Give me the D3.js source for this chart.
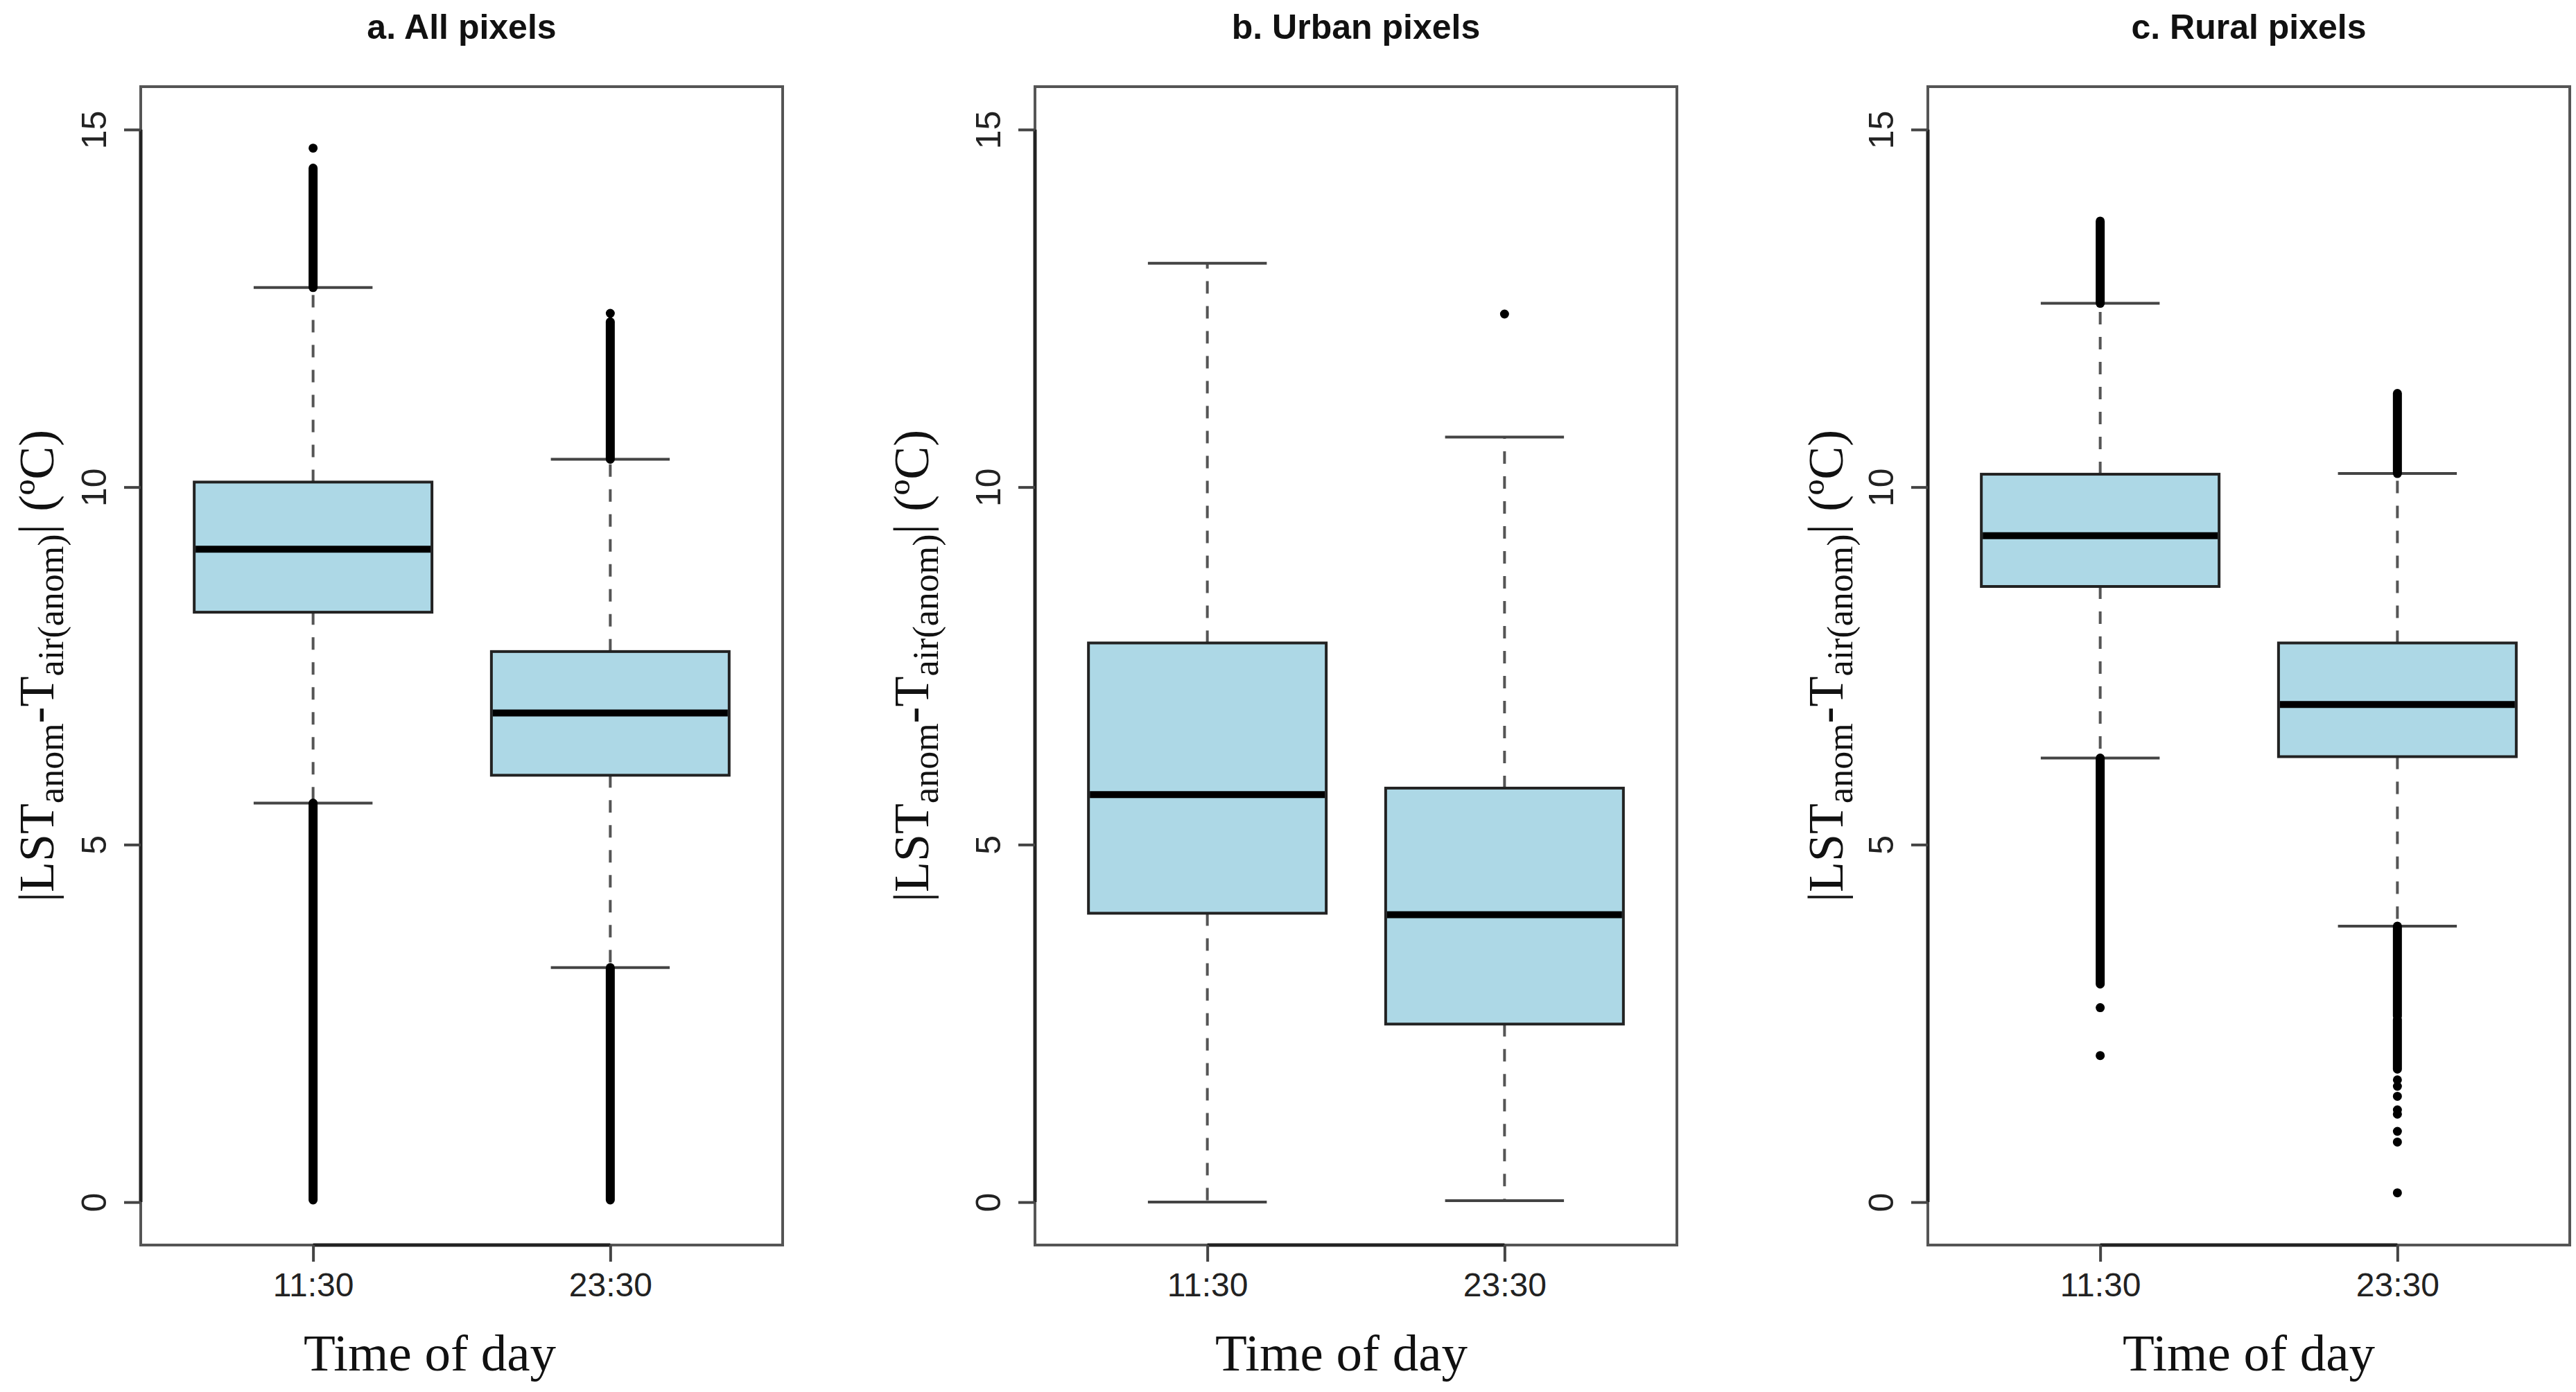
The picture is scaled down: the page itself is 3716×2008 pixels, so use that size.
<!DOCTYPE html>
<html>
<head>
<meta charset="utf-8">
<script src="https://cdn.jsdelivr.net/npm/d3@7"></script>
<style>
  body { margin: 0; background: #fff; }
</style>
</head>
<body>
<div id="chart"></div>
<script>
// ---- data (one entry per panel, then per time of day) ----
var categories = ['11:30', '23:30'];
var panelTitles = ['a. All pixels', 'b. Urban pixels', 'c. Rural pixels'];
var yTicks = [0, 5, 10, 15];

var lowerWhisker = [[5.58, 3.28], [0.00, 0.02], [6.21, 3.86]];
var q1           = [[8.25, 5.97], [4.04, 2.49], [8.61, 6.23]];
var medians      = [[9.13, 6.84], [5.70, 4.02], [9.32, 6.96]];
var q3           = [[10.07, 7.70], [7.82, 5.79], [10.18, 7.82]];
var upperWhisker = [[12.79, 10.39], [13.13, 10.70], [12.57, 10.19]];

// outliers so dense that they merge into a solid strip: [from, to]
var outlierRuns = [
  [[[12.79, 14.46], [0.03, 5.58]], [[10.39, 12.31], [0.03, 3.28]]],
  [[], []],
  [[[12.57, 13.72], [3.05, 6.21]], [[10.19, 11.31], [2.60, 3.86], [1.86, 2.55]]]
];
// separate outlying points
var outlierPoints = [
  [[14.74], [12.43]],
  [[], [12.42]],
  [[2.72, 2.05], [1.71, 1.62, 1.48, 1.29, 1.23, 0.99, 0.84, 0.13]]
];

// ---- layout ----
var W = 3716, H = 2008;
var panelLeft = [203, 1493, 2781];
var panelW = 926, plotTop = 125, plotBottom = 1796;
var yLabelX = [53, 1315, 2634];
var xLabelX = [620, 1935, 3244];

var svg = d3.select('#chart').append('svg')
    .attr('width', W)
    .attr('height', H)
    .style('font-family', '"Liberation Sans", Arial, sans-serif');

// R pads the y range by 4% on either side of c(0, 15)
var y = d3.scaleLinear().domain([-0.6, 15.6]).range([plotBottom, plotTop]);

panelTitles.forEach(function (title, p) {
    var left = panelLeft[p];
    var x = d3.scalePoint().domain(categories).range([left, left + panelW]).padding(0.58);
    var step = x.step();
    var boxW = step * 0.8, capW = step * 0.4;
    var g = svg.append('g').attr('class', 'panel');

    // frame
    g.append('rect')
        .attr('x', left).attr('y', plotTop)
        .attr('width', panelW).attr('height', plotBottom - plotTop)
        .attr('fill', 'none').attr('stroke', '#555').attr('stroke-width', 4);

    // y axis
    var yAxis = d3.axisLeft(y).tickValues(yTicks).tickSize(24).tickPadding(0).tickFormat(d3.format('d'));
    var ya = g.append('g').attr('transform', 'translate(' + left + ',0)').call(yAxis);
    ya.select('.domain').attr('d', 'M0,' + y(0) + 'V' + y(15)).attr('stroke', '#222').attr('stroke-width', 5);
    ya.selectAll('.tick line').attr('stroke', '#444').attr('stroke-width', 4);
    ya.selectAll('.tick text')
        .attr('x', null).attr('dy', null)
        .attr('transform', 'translate(-50,0) rotate(-90)')
        .attr('text-anchor', 'middle')
        .attr('font-size', 50)
        .attr('fill', '#222');

    // x axis
    var xAxis = d3.axisBottom(x).tickSize(24).tickPadding(16);
    var xa = g.append('g').attr('transform', 'translate(0,' + plotBottom + ')').call(xAxis);
    xa.select('.domain').attr('d', 'M' + x(categories[0]) + ',0H' + x(categories[1])).attr('stroke', '#222').attr('stroke-width', 5);
    xa.selectAll('.tick line').attr('stroke', '#444').attr('stroke-width', 4);
    xa.selectAll('.tick text').attr('font-size', 48).attr('fill', '#222').attr('dy', '0.71em');

    var boxes = categories.map(function (c, i) {
        return {
            cat: c, lo: lowerWhisker[p][i], q1: q1[p][i], med: medians[p][i],
            q3: q3[p][i], hi: upperWhisker[p][i],
            runs: outlierRuns[p][i], pts: outlierPoints[p][i]
        };
    });

    var bg = g.selectAll('g.box').data(boxes).enter().append('g').attr('class', 'box');

    // dashed whiskers
    bg.append('line')
        .attr('x1', function (d) { return x(d.cat); }).attr('x2', function (d) { return x(d.cat); })
        .attr('y1', function (d) { return y(d.q3); }).attr('y2', function (d) { return y(d.hi); })
        .attr('stroke', '#555').attr('stroke-width', 4).attr('stroke-dasharray', '18,18');
    bg.append('line')
        .attr('x1', function (d) { return x(d.cat); }).attr('x2', function (d) { return x(d.cat); })
        .attr('y1', function (d) { return y(d.q1); }).attr('y2', function (d) { return y(d.lo); })
        .attr('stroke', '#555').attr('stroke-width', 4).attr('stroke-dasharray', '18,18');

    // whisker caps
    ['hi', 'lo'].forEach(function (k) {
        bg.append('line')
            .attr('x1', function (d) { return x(d.cat) - capW / 2; })
            .attr('x2', function (d) { return x(d.cat) + capW / 2; })
            .attr('y1', function (d) { return y(d[k]); })
            .attr('y2', function (d) { return y(d[k]); })
            .attr('stroke', '#444').attr('stroke-width', 4);
    });

    // box
    bg.append('rect')
        .attr('x', function (d) { return x(d.cat) - boxW / 2; })
        .attr('y', function (d) { return y(d.q3); })
        .attr('width', boxW)
        .attr('height', function (d) { return y(d.q1) - y(d.q3); })
        .attr('fill', 'lightblue').attr('stroke', '#222').attr('stroke-width', 4);

    // median
    bg.append('line')
        .attr('x1', function (d) { return x(d.cat) - boxW / 2 + 2; })
        .attr('x2', function (d) { return x(d.cat) + boxW / 2 - 2; })
        .attr('y1', function (d) { return y(d.med); })
        .attr('y2', function (d) { return y(d.med); })
        .attr('stroke', '#000').attr('stroke-width', 10);

    // outliers: dense strips and single points
    bg.each(function (d) {
        var sel = d3.select(this);
        sel.selectAll('line.run').data(d.runs).enter().append('line')
            .attr('class', 'run')
            .attr('x1', x(d.cat)).attr('x2', x(d.cat))
            .attr('y1', function (r) { return y(r[0]); })
            .attr('y2', function (r) { return y(r[1]); })
            .attr('stroke', '#000').attr('stroke-width', 13).attr('stroke-linecap', 'round');
        sel.selectAll('circle').data(d.pts).enter().append('circle')
            .attr('cx', x(d.cat))
            .attr('cy', function (v) { return y(v); })
            .attr('r', 6.5).attr('fill', '#000');
    });

    // titles and axis labels
    g.append('text')
        .attr('x', left + panelW / 2).attr('y', 56)
        .attr('text-anchor', 'middle')
        .attr('font-size', 50).attr('font-weight', 'bold')
        .attr('fill', '#111')
        .text(title);

    g.append('text')
        .attr('x', xLabelX[p]).attr('y', 1977)
        .attr('text-anchor', 'middle')
        .attr('font-family', '"Liberation Serif", "Times New Roman", serif')
        .attr('font-size', 75).attr('fill', '#111')
        .text('Time of day');

    var yl = g.append('text')
        .attr('transform', 'translate(' + (yLabelX[p] + 24) + ',' + ((plotTop + plotBottom) / 2) + ') rotate(-90)')
        .attr('text-anchor', 'middle')
        .attr('font-family', '"Liberation Serif", "Times New Roman", serif')
        .attr('font-size', 72).attr('fill', '#111');
    yl.append('tspan').text('|LST');
    yl.append('tspan').attr('font-size', 52).attr('dy', 14).text('anom');
    yl.append('tspan').attr('dy', -14).text('-T');
    yl.append('tspan').attr('font-size', 52).attr('dy', 14).text('air(anom)');
    yl.append('tspan').attr('dy', -14).text('| (ºC)');
});
</script>
</body>
</html>
